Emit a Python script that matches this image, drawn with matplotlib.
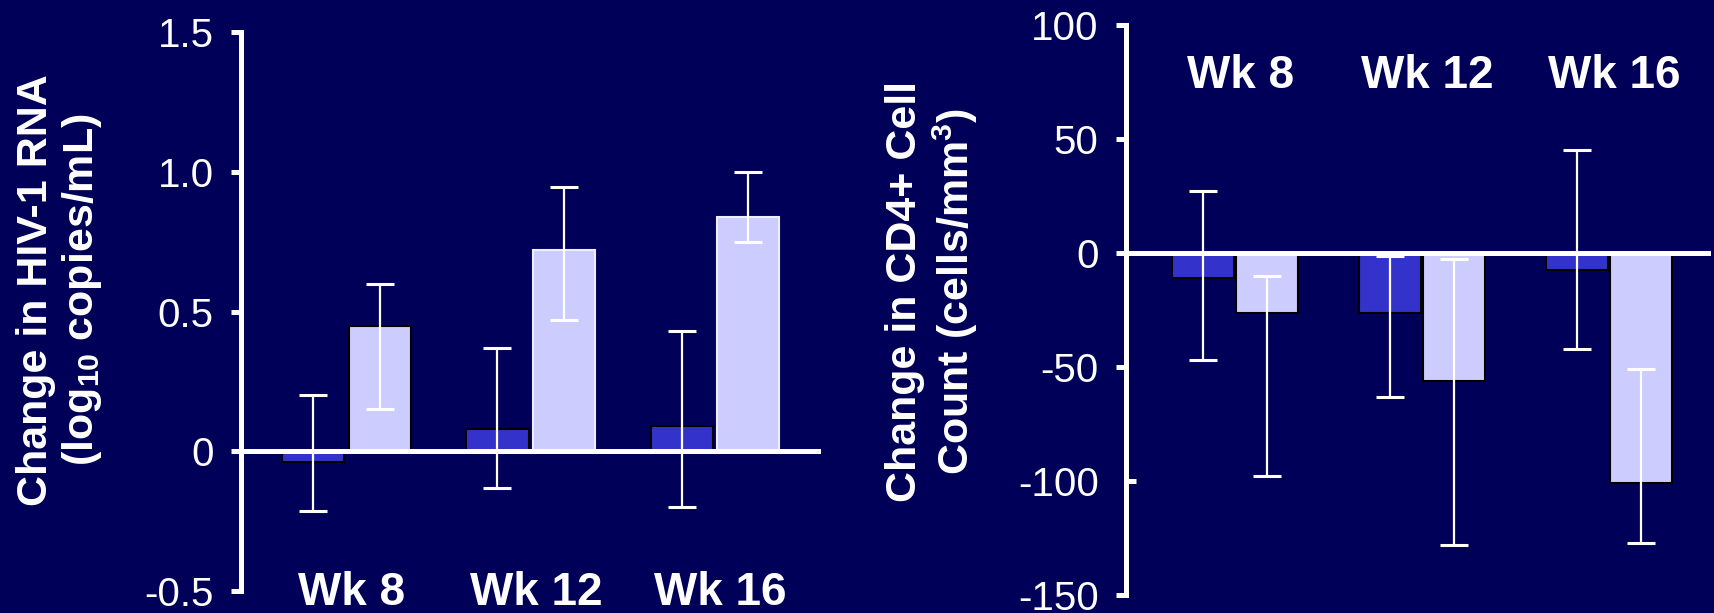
import numpy as np
import matplotlib.pyplot as plt
import matplotlib.lines as mlines

plt.rcParams['font.family'] = ['Liberation Sans', 'DejaVu Sans']
plt.rcParams['mathtext.default'] = 'regular'

weeks = ['Wk 8', 'Wk 12', 'Wk 16']

# change in HIV-1 RNA (log10 copies/mL), mean with low / high whisker
rna_a = [-0.04, 0.08, 0.09]
rna_a_lo = [-0.215, -0.13, -0.20]
rna_a_hi = [0.20, 0.37, 0.43]
rna_b = [0.45, 0.72, 0.84]
rna_b_lo = [0.15, 0.47, 0.75]
rna_b_hi = [0.60, 0.945, 1.00]

# change in CD4+ cell count (cells/mm3)
cd4_a = [-11, -26.5, -7.5]
cd4_a_lo = [-47, -63, -42]
cd4_a_hi = [27, -1.5, 45]
cd4_b = [-26.5, -56, -101]
cd4_b_lo = [-98, -128, -127]
cd4_b_hi = [-10, -2.5, -51]

rna_ticks = [-0.5, 0, 0.5, 1.0, 1.5]
rna_ticklabels = ['-0.5', '0', '0.5', '1.0', '1.5']
cd4_ticks = [-150, -100, -50, 0, 50, 100]
cd4_ticklabels = ['-150', '-100', '-50', '0', '50', '100']

bg = '#000058'
col_a = '#3333cc'
col_b = '#ccccff'

fig = plt.figure(figsize=(17.15, 6.13), dpi=100, facecolor=bg)
ax1 = fig.add_axes([0.1403, 0.0359, 0.3382, 0.9114])
ax2 = fig.add_axes([0.6564, 0.0294, 0.3413, 0.9299])

x = np.arange(len(weeks))


def draw(ax, a, a_lo, a_hi, b, b_lo, b_hi, width, off, edges_b):
    a = np.array(a)
    b = np.array(b)
    ax.set_facecolor(bg)
    ax.bar(x - off, a, width, color=col_a, edgecolor='black', lw=1.5, zorder=2)
    ax.bar(x + off, b, width, color=col_b, edgecolor=edges_b, lw=1.5, zorder=2)
    ax.errorbar(x - off, a, yerr=[a - np.array(a_lo), np.array(a_hi) - a],
                fmt='none', ecolor='white', elinewidth=1.6, capsize=10,
                capthick=2.2, zorder=4)
    ax.errorbar(x + off, b, yerr=[b - np.array(b_lo), np.array(b_hi) - b],
                fmt='none', ecolor='white', elinewidth=1.6, capsize=10,
                capthick=2.2, zorder=4)
    ax.axhline(0, color='white', lw=3.6, zorder=3)
    for s in ['top', 'right', 'bottom']:
        ax.spines[s].set_visible(False)
    ax.spines['left'].set_color('white')
    ax.spines['left'].set_linewidth(3.6)
    ax.tick_params(axis='y', colors='white', length=7.5, width=3.6, pad=12,
                   labelsize=29)
    ax.set_xticks([])


draw(ax1, rna_a, rna_a_lo, rna_a_hi, rna_b, rna_b_lo, rna_b_hi, 0.337, 0.18,
     ['black', '#eeeeff', '#eeeeff'])
ax1.set_xlim(-0.575, 2.575)
ax1.set_ylim(-0.5, 1.5)
ax1.set_yticks(rna_ticks, rna_ticklabels)
ax1.yaxis.get_major_ticks()[1].tick1line.set_color('black')
for xi, lab in zip(x, weeks):
    ax1.text(xi + 0.03, -0.025, lab, transform=ax1.get_xaxis_transform(),
             ha='center', va='baseline', fontsize=33, fontweight='bold',
             color='white')

draw(ax2, cd4_a, cd4_a_lo, cd4_a_hi, cd4_b, cd4_b_lo, cd4_b_hi, 0.33, 0.17,
     'black')
ax2.set_xlim(-0.585, 2.545)
ax2.set_ylim(-150, 100)
ax2.set_yticks(cd4_ticks, cd4_ticklabels)
ticks2 = ax2.yaxis.get_major_ticks()
ticks2[3].tick1line.set_color('black')
ticks2[1].tick1line.set_marker(mlines.TICKRIGHT)
for xi, lab in zip(x, weeks):
    ax2.text(xi + 0.03, 0.889, lab, transform=ax2.get_xaxis_transform(),
             ha='center', va='baseline', fontsize=33, fontweight='bold',
             color='white')

fig.text(0.035, 0.527, 'Change in HIV-1 RNA\n(log$_{10}$ copies/mL)',
         rotation=90, ha='center', va='center', multialignment='center',
         fontsize=31, fontweight='bold', color='white', linespacing=1.15)
fig.text(0.5437, 0.525, 'Change in CD4+ Cell\nCount (cells/mm$^{3}$)',
         rotation=90, ha='center', va='center', multialignment='center',
         fontsize=31, fontweight='bold', color='white', linespacing=1.15)

fig.savefig('out.png', dpi=100, facecolor=bg)
